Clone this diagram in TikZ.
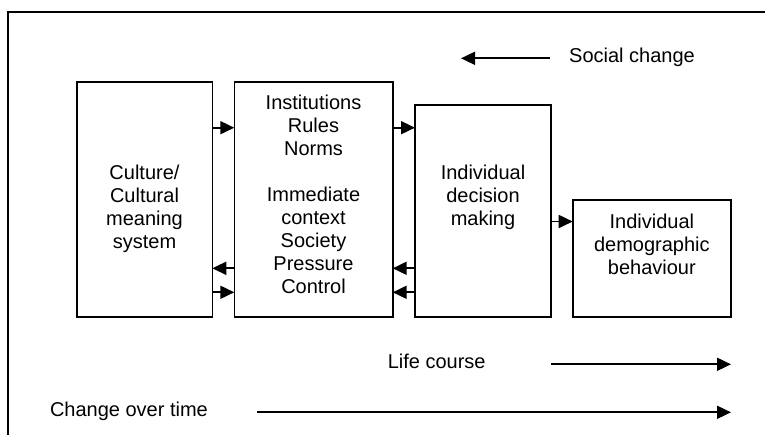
\documentclass[tikz,border=0pt]{standalone}
\usepackage{fontspec}
\setmainfont{Liberation Sans}
\usetikzlibrary{arrows.meta}
\begin{document}
\begin{tikzpicture}[x=1pt,y=-1pt,
  box/.style={draw=black, line width=1.6pt, outer sep=0pt, inner sep=0pt},
  txt/.style={font=\fontsize{20pt}{23pt}\selectfont, inner sep=0pt, align=center, anchor=north},
  lbl/.style={font=\fontsize{20pt}{23pt}\selectfont, inner sep=0pt},
  arr/.style={line width=1.8pt, -{Triangle[length=14pt,width=13pt]}},
  frameline/.style={line width=1.7pt}]
\useasboundingbox (0,0) rectangle (765,434);
\clip (0,0) rectangle (765,434);
\fill[white] (0,0) rectangle (765,434);
\draw[frameline] (8.3,445) -- (8.3,12) -- (775,12);

% boxes
\node[box, minimum width=135.6pt, minimum height=235.3pt] (b1) at (144.5,199.35) {};
\node[box, minimum width=158.4pt, minimum height=235.3pt] (b2) at (313.5,199.35) {};
\node[box, minimum width=136pt, minimum height=212pt] (b3) at (483,211) {};
\node[box, minimum width=158.3pt, minimum height=117pt] (b4) at (651.85,258.5) {};

% box texts
\node[txt] (t1) at (144.5,164.7) {Culture/\\Cultural\\meaning\\system};
\node[txt] (t2) at (313.5,95.3) {Institutions\\Rules\\Norms\\\mbox{}\\Immediate\\context\\Society\\Pressure\\Control};
\node[txt] (t3) at (483,165.3) {Individual\\decision\\making};
\node[txt] (t4) at (651.85,213.7) {Individual\\demographic\\behaviour};

% labels
\node[lbl, anchor=base west] (sc) at (569,62) {Social change};
\node[lbl, anchor=base] (lc) at (436.7,368.4) {Life course};
\node[lbl, anchor=base west] (ct) at (49.8,416) {Change over time};

% connectors between boxes
\draw[arr] (b1.east |- 0,127.7) -- (b2.west |- 0,127.7);
\draw[arr] (b2.east |- 0,127.7) -- (b3.west |- 0,127.7);
\draw[arr] (b2.west |- 0,268.3) -- (b1.east |- 0,268.3);
\draw[arr] (b1.east |- 0,292.3) -- (b2.west |- 0,292.3);
\draw[arr] (b3.west |- 0,268.3) -- (b2.east |- 0,268.3);
\draw[arr] (b3.west |- 0,292.3) -- (b2.east |- 0,292.3);
\draw[arr] (b3.east |- 0,221.5) -- (b4.west |- 0,221.5);

% free arrows
\coordinate (scA) at (550,58.3);
\coordinate (scB) at (461,58.3);
\coordinate (lcA) at (551,364.3);
\coordinate (lcB) at (731,364.3);
\coordinate (ctA) at (257,412.3);
\coordinate (ctB) at (731,412.3);
\draw[arr] (scA) -- (scB);
\draw[arr] (lcA) -- (lcB);
\draw[arr] (ctA) -- (ctB);
\end{tikzpicture}
\end{document}
